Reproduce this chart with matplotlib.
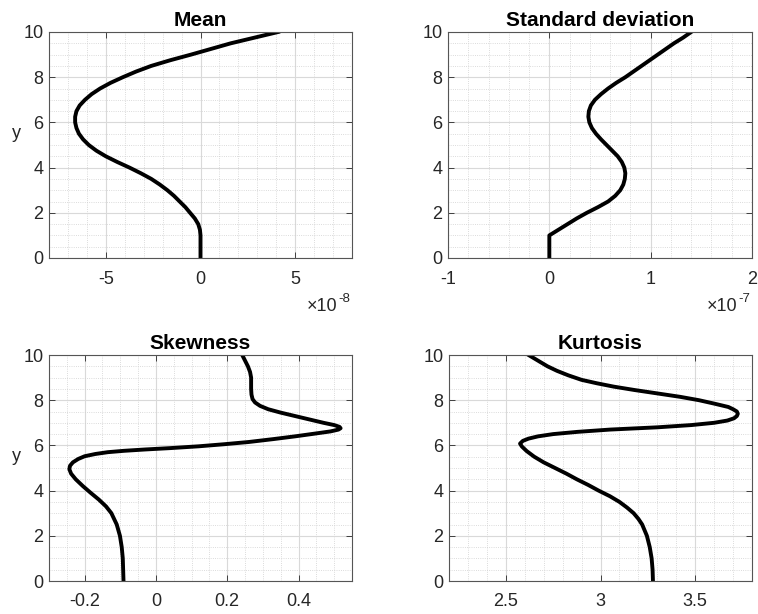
import matplotlib
matplotlib.use("Agg")
import matplotlib.pyplot as plt
from matplotlib.ticker import MultipleLocator, FuncFormatter
import numpy as np

plt.rcParams["font.family"] = ["Liberation Sans", "DejaVu Sans"]
plt.rcParams["axes.unicode_minus"] = False

# mean profile (x in units of 1e-8)
mean_y = [0, 1.0, 1.25, 1.5, 1.75, 2.0, 2.25, 2.5, 2.75, 3.0, 3.25, 3.5, 3.75, 4.0, 4.25,
          4.5, 4.75, 5.0, 5.25, 5.5, 5.75, 6.0, 6.25, 6.5, 6.75, 7.0, 7.25, 7.5, 7.75,
          8.0, 8.25, 8.5, 8.75, 9.0, 9.25, 9.5, 9.75, 10]
mean_x = [0, 0, -0.03, -0.12, -0.3, -0.55, -0.8, -1.1, -1.4, -1.75, -2.15, -2.6, -3.15,
          -3.75, -4.4, -5.0, -5.5, -5.9, -6.2, -6.42, -6.55, -6.62, -6.62, -6.55, -6.38,
          -6.1, -5.75, -5.3, -4.75, -4.1, -3.4, -2.6, -1.6, -0.5, 0.55, 1.6, 2.85, 4.1]

# standard deviation profile (x in units of 1e-7)
std_y = [0, 1.0, 1.25, 1.5, 1.75, 2.0, 2.25, 2.5, 2.75, 3.0, 3.25, 3.5, 3.75, 4.0, 4.25,
         4.5, 4.75, 5.0, 5.25, 5.5, 5.75, 6.0, 6.25, 6.5, 6.75, 7.0, 7.25, 7.5, 7.75,
         8.0, 8.25, 8.5, 8.75, 9.0, 9.25, 9.5, 9.75, 10]
std_x = [0, 0, 0.09, 0.18, 0.27, 0.37, 0.48, 0.58, 0.65, 0.70, 0.73, 0.745, 0.75, 0.74,
         0.715, 0.675, 0.62, 0.565, 0.51, 0.46, 0.42, 0.395, 0.385, 0.39, 0.41, 0.45,
         0.51, 0.58, 0.66, 0.75, 0.83, 0.91, 0.99, 1.07, 1.15, 1.23, 1.32, 1.40]

# skewness profile
skew_y = [0, 0.5, 1.0, 1.5, 2.0, 2.5, 3.0, 3.3, 3.6, 3.9, 4.2, 4.5, 4.75, 4.95, 5.1, 5.25,
          5.4, 5.52, 5.62, 5.7, 5.76, 5.82, 5.88, 5.96, 6.05, 6.15, 6.28, 6.4, 6.52, 6.62,
          6.7, 6.76, 6.82, 6.9, 7.0, 7.15, 7.3, 7.45, 7.6, 7.75, 7.9, 8.05, 8.25, 8.5,
          9.0, 9.25, 9.5, 9.75, 10]
skew_x = [-0.091, -0.092, -0.093, -0.096, -0.101, -0.110, -0.125, -0.140, -0.160, -0.183,
          -0.205, -0.225, -0.238, -0.243, -0.241, -0.233, -0.218, -0.200, -0.170, -0.135,
          -0.090, -0.030, 0.040, 0.120, 0.190, 0.260, 0.330, 0.390, 0.445, 0.490, 0.512,
          0.518, 0.515, 0.500, 0.470, 0.430, 0.390, 0.350, 0.315, 0.292, 0.278, 0.271,
          0.268, 0.267, 0.267, 0.264, 0.258, 0.250, 0.242]

# kurtosis profile
kurt_y = [0, 0.5, 1.0, 1.5, 2.0, 2.5, 2.75, 3.0, 3.25, 3.5, 3.75, 4.0, 4.25, 4.5, 4.75,
          5.0, 5.25, 5.5, 5.75, 5.95, 6.08, 6.2, 6.3, 6.4, 6.5, 6.6, 6.7, 6.8, 6.9, 7.0,
          7.1, 7.2, 7.3, 7.4, 7.5, 7.6, 7.7, 7.85, 8.0, 8.15, 8.3, 8.45, 8.6, 8.75, 8.9,
          9.1, 9.3, 9.5, 9.75, 10]
kurt_x = [3.277, 3.275, 3.27, 3.26, 3.245, 3.22, 3.20, 3.175, 3.14, 3.10, 3.05, 2.99,
          2.935, 2.875, 2.82, 2.76, 2.70, 2.65, 2.61, 2.585, 2.575, 2.59, 2.62, 2.67,
          2.75, 2.88, 3.05, 3.30, 3.48, 3.60, 3.67, 3.705, 3.72, 3.725, 3.72, 3.70,
          3.675, 3.60, 3.52, 3.42, 3.30, 3.18, 3.07, 2.98, 2.90, 2.83, 2.77, 2.72,
          2.67, 2.62]

fig = plt.figure(figsize=(7.58, 6.14), dpi=100)

W, H = 758.0, 614.0
boxes = [(49, 32, 303, 226), (448, 32, 304, 226), (49, 355, 303, 226), (449, 355, 303, 226)]
txt = "#262626"

def make_ax(b):
    l, t, w, h = b
    return fig.add_axes([l / W, 1 - (t + h) / H, w / W, h / H])

def style(ax, title, xlim, xmajor, xminor, scale=1.0, ylabel=False):
    ax.set_xlim(xlim)
    ax.set_ylim(0, 10)
    ax.xaxis.set_major_locator(MultipleLocator(xmajor))
    ax.xaxis.set_minor_locator(MultipleLocator(xminor))
    ax.xaxis.set_major_formatter(FuncFormatter(lambda v, p: "%g" % round(v / scale, 6)))
    ax.yaxis.set_major_locator(MultipleLocator(2))
    ax.yaxis.set_minor_locator(MultipleLocator(0.5))
    ax.grid(True, which="major", color="#d9d9d9", linewidth=0.8, linestyle="-")
    ax.grid(True, which="minor", color="#cfcfcf", linewidth=0.6, linestyle=":")
    ax.set_axisbelow(True)
    ax.tick_params(which="both", direction="in", top=True, right=True,
                   labelsize=13, colors=txt)
    ax.tick_params(which="major", length=4, width=0.6)
    ax.tick_params(which="minor", length=0)
    ax.tick_params(axis="x", pad=9)
    ax.tick_params(axis="y", pad=4)
    for s in ax.spines.values():
        s.set_color("#555555")
        s.set_linewidth(0.8)
    ax.set_title(title, fontsize=15, fontweight="bold", pad=4)
    if ylabel:
        ax.set_ylabel("y", fontsize=13, rotation=0, color=txt, va="center", ha="center")
        ax.yaxis.set_label_coords(-0.106, 0.55)

def exponent(right_px, power):
    fig.text((right_px - 15) / W, 1 - 311 / H, "\u00d710", ha="right", va="baseline",
             fontsize=13, color=txt)
    fig.text((right_px - 14) / W, 1 - 302 / H, power, ha="left", va="baseline",
             fontsize=9.5, color=txt)

ax1 = make_ax(boxes[0])
ax1.plot(np.array(mean_x) * 1e-8, mean_y, color="black", linewidth=2.8)
style(ax1, "Mean", (-8e-8, 8e-8), 5e-8, 1e-8, scale=1e-8, ylabel=True)
exponent(352, "-8")

ax2 = make_ax(boxes[1])
ax2.plot(np.array(std_x) * 1e-7, std_y, color="black", linewidth=2.8)
style(ax2, "Standard deviation", (-1e-7, 2e-7), 1e-7, 0.2e-7, scale=1e-7)
exponent(752, "-7")

ax3 = make_ax(boxes[2])
ax3.plot(skew_x, skew_y, color="black", linewidth=2.8)
style(ax3, "Skewness", (-0.3, 0.55), 0.2, 0.05, ylabel=True)

ax4 = make_ax(boxes[3])
ax4.plot(kurt_x, kurt_y, color="black", linewidth=2.8)
style(ax4, "Kurtosis", (2.2, 3.8), 0.5, 0.1)

fig.savefig("out.png", dpi=100)
